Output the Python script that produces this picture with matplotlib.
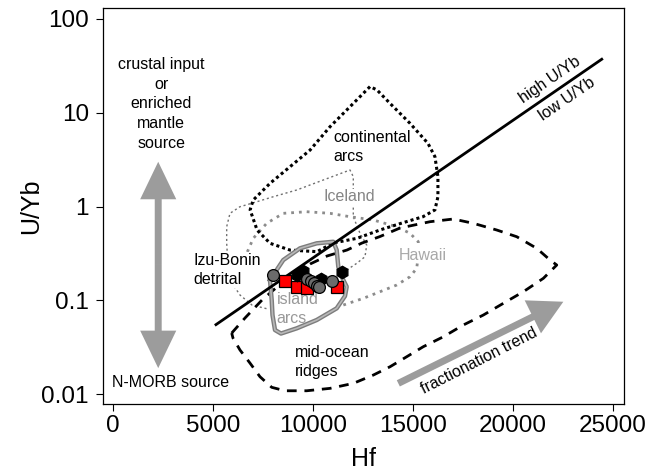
import matplotlib
matplotlib.use("Agg")
import matplotlib.pyplot as plt
from matplotlib.patches import FancyArrowPatch
from matplotlib.ticker import NullLocator

plt.rcParams['font.family'] = ['Liberation Sans', 'DejaVu Sans']

# field outlines (Hf, U/Yb)
cont_hf = [12850, 11850, 10850, 9850, 8850, 7850, 7000, 6850, 7200, 7850, 8850, 10200,
           11000, 12200, 13350, 14500, 15500, 16100, 16250, 16250, 16100, 15750, 14850, 13850, 13200, 12850]
cont_uyb = [19.0, 11.6, 7.1, 4.0, 2.66, 1.77, 1.17, 0.92, 0.56, 0.405, 0.343, 0.33,
            0.408, 0.458, 0.562, 0.672, 0.778, 0.92, 1.27, 2.08, 3.40, 4.72, 7.72, 12.6, 17.5, 19.0]

mor_hf = [5927, 6593, 7444, 8596, 9847, 10698, 11699, 12450, 13351, 14352, 15854, 17020, 18022,
          19193, 20194, 21195, 21861, 22197, 21526, 20525, 19523, 18522, 17521, 16520, 15518,
          14687, 13852, 13015, 12014, 10848, 9681, 8595, 7930, 7344, 6843, 6343, 5992, 5927]
mor_uyb = [0.0447, 0.0647, 0.1006, 0.1644, 0.2435, 0.2965, 0.3436, 0.408, 0.4786, 0.5898, 0.6886,
           0.7357, 0.662, 0.5616, 0.4764, 0.3582, 0.2688, 0.2377, 0.1714, 0.1234, 0.0928, 0.0696,
           0.0545, 0.0408, 0.032, 0.025, 0.01955, 0.01594, 0.013, 0.0115, 0.01084, 0.01084, 0.0118,
           0.0153, 0.0214, 0.0295, 0.0396, 0.0447]

arc_hf = [7844, 8510, 9346, 10182, 11013, 11183, 11263, 11434, 11684, 11599, 11183, 10182,
          9181, 8395, 8095, 7970, 7930, 7844]
arc_uyb = [0.1644, 0.2688, 0.3582, 0.405, 0.421, 0.3436, 0.228, 0.1783, 0.1395, 0.111, 0.0821,
           0.0616, 0.0502, 0.0442, 0.0482, 0.0696, 0.1006, 0.1644]

ice_hf = [11684, 12185, 12600, 12685, 12350, 12014, 12014, 12014, 11849, 10513, 9181, 8010,
          6928, 6343, 5842, 5677, 5677, 5742, 5942, 6343, 6943, 7744]
ice_uyb = [0.2102, 0.2477, 0.2914, 0.3885, 0.5178, 0.778, 1.272, 2.079, 2.451, 1.918, 1.50, 1.272,
           1.082, 0.995, 0.846, 0.609, 0.405, 0.2377, 0.1528, 0.1138, 0.089, 0.0807]

haw_hf = [11514, 12515, 13351, 14187, 14853, 15188, 15268, 15268, 14853, 14187, 13015, 11849,
          10848, 9681, 8510, 7679, 7008, 6643]
haw_uyb = [0.089, 0.1049, 0.1234, 0.1455, 0.1783, 0.2192, 0.304, 0.421, 0.5178, 0.609, 0.718,
           0.778, 0.846, 0.88, 0.846, 0.662, 0.458, 0.304]

# high / low U/Yb divide
div_hf = [5141, 24449]
div_uyb = [0.055, 37.2]

# Izu-Bonin detrital zircon
red_hf = [8595, 9181, 9697, 11213]
red_uyb = [0.160, 0.137, 0.135, 0.137]
grey_hf = [8010, 9682, 9897, 10062, 10212, 10312, 10933]
grey_uyb = [0.186, 0.167, 0.162, 0.152, 0.142, 0.137, 0.162]
black_hf = [9181, 9511, 10382, 11434]
black_uyb = [0.186, 0.207, 0.167, 0.202]

xticks = [0, 5000, 10000, 15000, 20000, 25000]
yticks = [0.01, 0.1, 1, 10, 100]
ytick_labels = ["0.01", "0.1", "1", "10", "100"]

fig = plt.figure(figsize=(6.62, 4.74), dpi=100)
ax = fig.add_axes([0.1551, 0.1483, 0.788, 0.8342])
ax.set_yscale("log")
ax.set_xlim(-530, 25580)
ax.set_ylim(0.00789, 130)

ax.plot(ice_hf, ice_uyb, color="#707070", lw=1.0, ls=(0, (1.5, 2)), zorder=1.5)
ax.plot(haw_hf, haw_uyb, color="#8c8c8c", lw=2.0, ls=(0, (1, 1.8)), zorder=1.5)
ax.plot(cont_hf, cont_uyb, color="black", lw=2.2, ls=(0, (1, 1)), zorder=3)
ax.plot(mor_hf, mor_uyb, color="black", lw=2.0, ls=(0, (3.5, 2.8)), zorder=3)
ax.plot(arc_hf, arc_uyb, color="#7d7d7d", lw=3.2, zorder=3)
ax.plot(arc_hf, arc_uyb, color="#b8b8b8", lw=1.2, zorder=3.1)
ax.plot(div_hf, div_uyb, color="black", lw=2.0, zorder=3.2)

ax.plot(red_hf, red_uyb, "s", ms=8.5, mfc="red", mec="black", mew=0.9, zorder=4)
ax.plot(black_hf, black_uyb, "h", ms=9, mfc="black", mec="black", mew=0.9, zorder=4.1)
ax.plot(grey_hf, grey_uyb, "o", ms=8.5, mfc="#6b6b6b", mec="black", mew=0.9, zorder=4.2)

grey_arrow = "#9c9c9c"
vstyle = "simple,head_length=27,head_width=26,tail_width=5"
for end in (3.0, 0.0189):
    ax.add_patch(FancyArrowPatch((2250, 0.238), (2250, end), arrowstyle=vstyle,
                                 mutation_scale=1, color=grey_arrow, lw=0,
                                 shrinkA=0, shrinkB=0, zorder=2))
ax.add_patch(FancyArrowPatch((14267, 0.0130), (22527, 0.0965),
                             arrowstyle="simple,head_length=24.5,head_width=26.5,tail_width=5",
                             mutation_scale=1, color=grey_arrow, lw=0,
                             shrinkA=0, shrinkB=0, zorder=2))

fs = 11.5
ls = 1.38
ax.text(2400, 12.4, "crustal input\nor\nenriched\nmantle\nsource", fontsize=fs,
        ha="center", va="center", linespacing=ls, multialignment="center")
ax.text(2890, 0.0132, "N-MORB source", fontsize=fs, ha="center", va="center")
ax.text(11000, 4.33, "continental\narcs", fontsize=fs, ha="left", va="center", linespacing=ls)
ax.text(11800, 1.272, "Iceland", fontsize=fs, color="#858585", ha="center", va="center",
        bbox=dict(facecolor="white", edgecolor="none", pad=0.5), zorder=2)
ax.text(15480, 0.304, "Hawaii", fontsize=fs, color="#a8a8a8", ha="center", va="center",
        bbox=dict(facecolor="white", edgecolor="none", pad=0.5), zorder=2)
ax.text(4005, 0.210, "Izu-Bonin\ndetrital", fontsize=fs, ha="left", va="center", linespacing=ls,
        bbox=dict(facecolor="white", edgecolor="none", pad=0.5), zorder=2)
ax.text(8180, 0.0807, "island\narcs", fontsize=fs, color="#999999", ha="left", va="center",
        linespacing=ls, zorder=3.5)
ax.text(9096, 0.0219, "mid-ocean\nridges", fontsize=fs, ha="left", va="center", linespacing=ls)
ax.text(21860, 22.3, "high U/Yb", fontsize=fs, rotation=34.4, ha="center", va="center",
        rotation_mode="anchor")
ax.text(22712, 14.0, "low U/Yb", fontsize=fs, rotation=34.4, ha="center", va="center",
        rotation_mode="anchor")
ax.text(18307, 0.0227, "fractionation trend", fontsize=fs, rotation=27, ha="center",
        va="center", rotation_mode="anchor")

ax.set_xticks(xticks)
ax.set_yticks(yticks)
ax.set_yticklabels(ytick_labels)
ax.yaxis.set_minor_locator(NullLocator())
ax.tick_params(direction="out", length=5, width=0.8, labelsize=17.5)
ax.tick_params(axis="x", pad=3)
ax.tick_params(axis="y", pad=5)
for sp in ax.spines.values():
    sp.set_linewidth(0.9)

ax.set_xlabel("Hf", fontsize=18)
ax.set_ylabel("U/Yb", fontsize=18)
ax.xaxis.set_label_coords(0.5, -0.1095)
ax.yaxis.set_label_coords(-0.1145, 0.5)

fig.savefig("out.png", dpi=100)
